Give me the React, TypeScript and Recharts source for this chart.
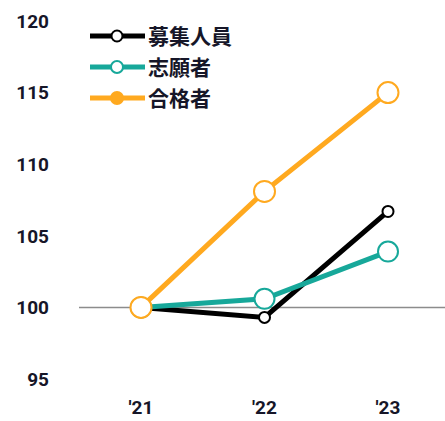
import React from "react";
import { LineChart, Line, XAxis, YAxis, ReferenceLine } from "recharts";

const years = ["'21", "'22", "'23"];
const boshu = [100, 99.3, 106.7];
const shigan = [100, 100.6, 103.9];
const gokaku = [100, 108.1, 115];
const yTicks = [95, 100, 105, 110, 115, 120];

const names = { boshu: "募集人員", shigan: "志願者", gokaku: "合格者" };
const colors = { boshu: "#000000", shigan: "#17a89a", gokaku: "#ffa91f" };

const data = years.map((y, i) => ({ year: y, boshu: boshu[i], shigan: shigan[i], gokaku: gokaku[i] }));

const FONT = "Roboto, 'Liberation Sans', Arial, sans-serif";
const TEXT = "#161628";

const LegendBox = () => {
  const items = [
    { key: "boshu", fill: "#fff", r: 5.5 },
    { key: "shigan", fill: "#fff", r: 6 },
    { key: "gokaku", fill: colors.gokaku, r: 6 },
  ] as const;
  return (
    <svg width={220} height={100} style={{ display: "block", overflow: "visible" }}>
      {items.map((it, i) => {
        const cy = 12 + i * 31;
        const c = (colors as any)[it.key];
        return (
          <g key={it.key}>
            <line x1={2} x2={57} y1={cy} y2={cy} stroke={c} strokeWidth={5} />
            <circle cx={29} cy={cy} r={it.r} fill={it.fill} stroke={c} strokeWidth={2} />
            <text x={60} y={cy + 7.5} fontSize={21} fontWeight={700} fill={TEXT} fontFamily="'Noto Sans CJK JP', sans-serif">
              {(names as any)[it.key]}
            </text>
          </g>
        );
      })}
    </svg>
  );
};

export default function App() {
  return (
    <div style={{ position: "absolute", left: 0, top: 0, width: 445, height: 421, background: "#fff" }}>
      <LineChart width={445} height={421} data={data} margin={{ top: 21, right: 0, bottom: 0, left: 0 }}>
        <XAxis
          dataKey="year"
          padding={{ left: 62, right: 57 }}
          axisLine={false}
          tickLine={false}
          height={42}
          tickMargin={16}
          tick={{ fontSize: 19, fill: TEXT, fontFamily: FONT, fontWeight: 700 }}
          interval={0}
        />
        <YAxis
          domain={[95, 120]}
          ticks={yTicks}
          width={79}
          axisLine={false}
          tickLine={false}
          tickSize={0}
          tickMargin={30}
          tick={{ fontSize: 19, fill: TEXT, fontFamily: FONT, fontWeight: 700 }}
          interval={0}
        />
        <ReferenceLine y={100} stroke="#8c8c8c" strokeWidth={1.5} />
        <Line
          dataKey="boshu"
          stroke={colors.boshu}
          strokeWidth={5}
          dot={{ r: 5.5, fill: "#fff", stroke: colors.boshu, strokeWidth: 2 }}
          isAnimationActive={false}
        />
        <Line
          dataKey="shigan"
          stroke={colors.shigan}
          strokeWidth={5}
          dot={{ r: 10, fill: "#fff", stroke: colors.shigan, strokeWidth: 2 }}
          isAnimationActive={false}
        />
        <Line
          dataKey="gokaku"
          stroke={colors.gokaku}
          strokeWidth={5}
          dot={{ r: 10.5, fill: "#fff", stroke: colors.gokaku, strokeWidth: 2 }}
          isAnimationActive={false}
        />
      </LineChart>
      <div style={{ position: "absolute", left: 88, top: 24 }}>
        <LegendBox />
      </div>
    </div>
  );
}
